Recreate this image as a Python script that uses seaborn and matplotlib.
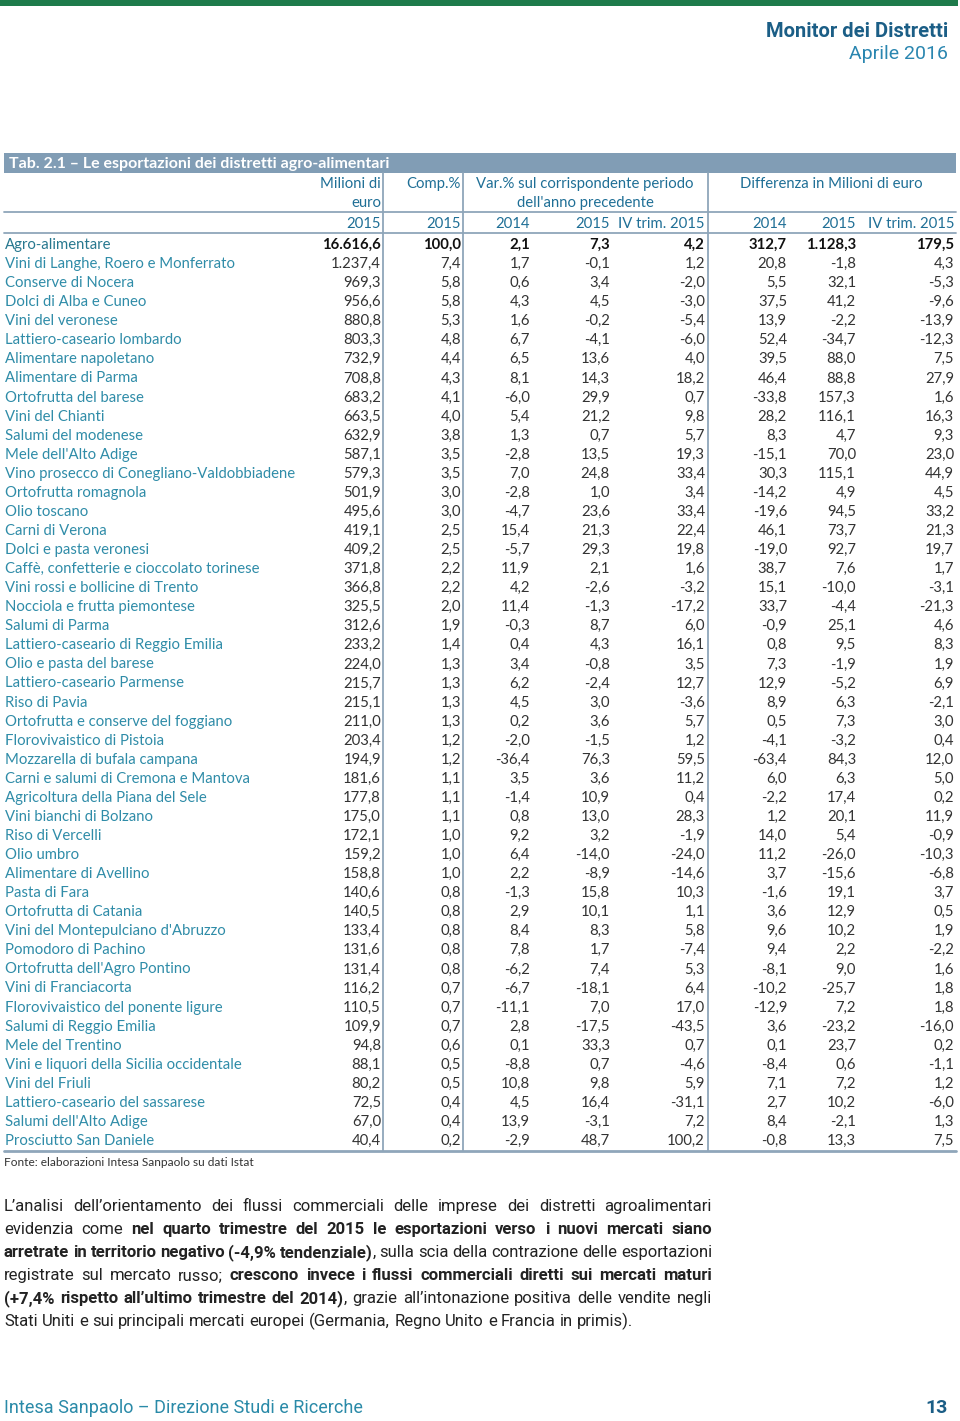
import numpy as np
import pandas as pd
import matplotlib
matplotlib.use("Agg")
import matplotlib.pyplot as plt
import seaborn as sns
from matplotlib.patches import Rectangle

# ---- data (Tab. 2.1) ----
districts = [
    "Agro-alimentare", "Vini di Langhe, Roero e Monferrato", "Conserve di Nocera",
    "Dolci di Alba e Cuneo", "Vini del veronese", "Lattiero-caseario lombardo",
    "Alimentare napoletano", "Alimentare di Parma", "Ortofrutta del barese",
    "Vini del Chianti", "Salumi del modenese", "Mele dell'Alto Adige",
    "Vino prosecco di Conegliano-Valdobbiadene", "Ortofrutta romagnola", "Olio toscano",
    "Carni di Verona", "Dolci e pasta veronesi", "Caffè, confetterie e cioccolato torinese",
    "Vini rossi e bollicine di Trento", "Nocciola e frutta piemontese", "Salumi di Parma",
    "Lattiero-caseario di Reggio Emilia", "Olio e pasta del barese", "Lattiero-caseario Parmense",
    "Riso di Pavia", "Ortofrutta e conserve del foggiano", "Florovivaistico di Pistoia",
    "Mozzarella di bufala campana", "Carni e salumi di Cremona e Mantova",
    "Agricoltura della Piana del Sele", "Vini bianchi di Bolzano", "Riso di Vercelli",
    "Olio umbro", "Alimentare di Avellino", "Pasta di Fara", "Ortofrutta di Catania",
    "Vini del Montepulciano d'Abruzzo", "Pomodoro di Pachino", "Ortofrutta dell'Agro Pontino",
    "Vini di Franciacorta", "Florovivaistico del ponente ligure", "Salumi di Reggio Emilia",
    "Mele del Trentino", "Vini e liquori della Sicilia occidentale", "Vini del Friuli",
    "Lattiero-caseario del sassarese", "Salumi dell'Alto Adige", "Prosciutto San Daniele",
]
milioni_2015 = [16616.6, 1237.4, 969.3, 956.6, 880.8, 803.3, 732.9, 708.8, 683.2, 663.5,
                632.9, 587.1, 579.3, 501.9, 495.6, 419.1, 409.2, 371.8, 366.8, 325.5,
                312.6, 233.2, 224.0, 215.7, 215.1, 211.0, 203.4, 194.9, 181.6, 177.8,
                175.0, 172.1, 159.2, 158.8, 140.6, 140.5, 133.4, 131.6, 131.4, 116.2,
                110.5, 109.9, 94.8, 88.1, 80.2, 72.5, 67.0, 40.4]
comp_2015 = [100.0, 7.4, 5.8, 5.8, 5.3, 4.8, 4.4, 4.3, 4.1, 4.0, 3.8, 3.5, 3.5, 3.0, 3.0,
             2.5, 2.5, 2.2, 2.2, 2.0, 1.9, 1.4, 1.3, 1.3, 1.3, 1.3, 1.2, 1.2, 1.1, 1.1,
             1.1, 1.0, 1.0, 1.0, 0.8, 0.8, 0.8, 0.8, 0.8, 0.7, 0.7, 0.7, 0.6, 0.5, 0.5,
             0.4, 0.4, 0.2]
var_2014 = [2.1, 1.7, 0.6, 4.3, 1.6, 6.7, 6.5, 8.1, -6.0, 5.4, 1.3, -2.8,
            7.0, -2.8, -4.7, 15.4, -5.7, 11.9, 4.2, 11.4, -0.3, 0.4, 3.4, 6.2,
            4.5, 0.2, -2.0, -36.4, 3.5, -1.4, 0.8, 9.2, 6.4, 2.2, -1.3, 2.9,
            8.4, 7.8, -6.2, -6.7, -11.1, 2.8, 0.1, -8.8, 10.8, 4.5, 13.9, -2.9]
var_2015 = [7.3, -0.1, 3.4, 4.5, -0.2, -4.1, 13.6, 14.3, 29.9, 21.2, 0.7, 13.5,
            24.8, 1.0, 23.6, 21.3, 29.3, 2.1, -2.6, -1.3, 8.7, 4.3, -0.8, -2.4,
            3.0, 3.6, -1.5, 76.3, 3.6, 10.9, 13.0, 3.2, -14.0, -8.9, 15.8, 10.1,
            8.3, 1.7, 7.4, -18.1, 7.0, -17.5, 33.3, 0.7, 9.8, 16.4, -3.1, 48.7]
var_iv_2015 = [4.2, 1.2, -2.0, -3.0, -5.4, -6.0, 4.0, 18.2, 0.7, 9.8, 5.7, 19.3,
               33.4, 3.4, 33.4, 22.4, 19.8, 1.6, -3.2, -17.2, 6.0, 16.1, 3.5, 12.7,
               -3.6, 5.7, 1.2, 59.5, 11.2, 0.4, 28.3, -1.9, -24.0, -14.6, 10.3, 1.1,
               5.8, -7.4, 5.3, 6.4, 17.0, -43.5, 0.7, -4.6, 5.9, -31.1, 7.2, 100.2]
diff_2014 = [312.7, 20.8, 5.5, 37.5, 13.9, 52.4, 39.5, 46.4, -33.8, 28.2, 8.3, -15.1,
             30.3, -14.2, -19.6, 46.1, -19.0, 38.7, 15.1, 33.7, -0.9, 0.8, 7.3, 12.9,
             8.9, 0.5, -4.1, -63.4, 6.0, -2.2, 1.2, 14.0, 11.2, 3.7, -1.6, 3.6,
             9.6, 9.4, -8.1, -10.2, -12.9, 3.6, 0.1, -8.4, 7.1, 2.7, 8.4, -0.8]
diff_2015 = [1128.3, -1.8, 32.1, 41.2, -2.2, -34.7, 88.0, 88.8, 157.3, 116.1, 4.7, 70.0,
             115.1, 4.9, 94.5, 73.7, 92.7, 7.6, -10.0, -4.4, 25.1, 9.5, -1.9, -5.2,
             6.3, 7.3, -3.2, 84.3, 6.3, 17.4, 20.1, 5.4, -26.0, -15.6, 19.1, 12.9,
             10.2, 2.2, 9.0, -25.7, 7.2, -23.2, 23.7, 0.6, 7.2, 10.2, -2.1, 13.3]
diff_iv_2015 = [179.5, 4.3, -5.3, -9.6, -13.9, -12.3, 7.5, 27.9, 1.6, 16.3, 9.3, 23.0,
                44.9, 4.5, 33.2, 21.3, 19.7, 1.7, -3.1, -21.3, 4.6, 8.3, 1.9, 6.9,
                -2.1, 3.0, 0.4, 12.0, 5.0, 0.2, 11.9, -0.9, -10.3, -6.8, 3.7, 0.5,
                1.9, -2.2, 1.6, 1.8, 1.8, -16.0, 0.2, -1.1, 1.2, -6.0, 1.3, 7.5]

paragraph = [
    "L’analisi dell’orientamento dei flussi commerciali delle imprese dei distretti agroalimentari",
    "evidenzia come **nel quarto trimestre del 2015 le esportazioni verso i nuovi mercati siano**",
    "**arretrate in territorio negativo (-4,9% tendenziale)**, sulla scia della contrazione delle esportazioni",
    "registrate sul mercato russo; **crescono invece i flussi commerciali diretti sui mercati maturi**",
    "**(+7,4% rispetto all’ultimo trimestre del 2014)**, grazie all’intonazione positiva delle vendite negli",
    "Stati Uniti e sui principali mercati europei (Germania, Regno Unito e Francia in primis).",
]

df = pd.DataFrame({
    "distretto": districts, "mil_2015": milioni_2015, "comp_2015": comp_2015,
    "var_2014": var_2014, "var_2015": var_2015, "var_iv": var_iv_2015,
    "diff_2014": diff_2014, "diff_2015": diff_2015, "diff_iv": diff_iv_2015,
})

sns.set_theme(style="white")
plt.rcParams["font.family"] = ["Lato", "DejaVu Sans"]
NARROW = ["Roboto", "DejaVu Sans"]

HEAD = "#1f6f96"
NAME = "#2f8ca8"
NUM = "#333333"
LINE = "#8fa6ba"


def fmt_it(v):
    s = f"{abs(v):,.1f}".replace(",", "X").replace(".", ",").replace("X", ".")
    return ("-" if v < 0 else "") + s


fig = plt.figure(figsize=(9.6, 14.21), dpi=100)
ax = fig.add_axes([0, 0, 1, 1])
ax.set_xlim(0, 960)
ax.set_ylim(1421, 0)
ax.axis("off")

# page header
ax.add_patch(Rectangle((0, 0), 958, 6, color="#1e7b4b", lw=0))
ax.text(948, 37, "Monitor dei Distretti", ha="right", va="baseline", fontsize=14.5,
        fontweight="bold", color="#1b5e86", family=NARROW)
ax.text(948, 59, "Aprile 2016", ha="right", va="baseline", fontsize=14,
        color="#2a86b0", family=NARROW)

# table title bar
ax.add_patch(Rectangle((4, 153), 952, 19.5, color="#819db5", lw=0))
ax.text(9, 168, "Tab. 2.1 – Le esportazioni dei distretti agro-alimentari", ha="left",
        va="baseline", fontsize=11.5, fontweight="bold", color="white")

# column headers
fs = 10.7
bl = 5  # baseline offset from row centre
ax.text(381, 183 + bl, "Milioni di", ha="right", va="baseline", fontsize=fs, color=HEAD)
ax.text(381, 202 + bl, "euro", ha="right", va="baseline", fontsize=fs, color=HEAD)
ax.text(461, 183 + bl, "Comp.%", ha="right", va="baseline", fontsize=fs, color=HEAD)
ax.text(585, 183 + bl, "Var.% sul corrispondente periodo", ha="center", va="baseline",
        fontsize=fs, color=HEAD)
ax.text(585, 202 + bl, "dell'anno precedente", ha="center", va="baseline", fontsize=fs,
        color=HEAD)
ax.text(831, 183 + bl, "Differenza in Milioni di euro", ha="center", va="baseline",
        fontsize=fs, color=HEAD)

cols = [("mil_2015", 381, "2015"), ("comp_2015", 461, "2015"), ("var_2014", 530, "2014"),
        ("var_2015", 610, "2015"), ("var_iv", 705, "IV trim. 2015"),
        ("diff_2014", 787, "2014"), ("diff_2015", 856, "2015"), ("diff_iv", 954, "IV trim. 2015")]
for c, xr, lab in cols:
    ax.text(xr, 223 + bl, lab, ha="right", va="baseline", fontsize=fs, color=HEAD)

# rules
for yl in (211.5, 233):
    ax.plot([4, 956], [yl, yl], color=LINE, lw=1.3)
ax.plot([4, 956], [1151, 1151], color=LINE, lw=2)
for xv in (383, 463, 708):
    ax.plot([xv, xv], [172.5, 1151], color=LINE, lw=1.3)

# table body
y0, y1 = 244, 1140
row_h = (y1 - y0) / (len(df) - 1)
for i, row in df.iterrows():
    y = y0 + i * row_h + bl
    first = i == 0
    ax.text(5, y, row["distretto"], ha="left", va="baseline", fontsize=fs,
            color="#27788f" if first else NAME)
    for c, xr, _ in cols:
        ax.text(xr, y, fmt_it(row[c]), ha="right", va="baseline", fontsize=fs,
                color="#111111" if first else NUM,
                fontweight="bold" if first else "normal")

ax.text(4, 1166, "Fonte: elaborazioni Intesa Sanpaolo su dati Istat", ha="left",
        va="baseline", fontsize=8.6, color="#333333")

# justified paragraph
renderer = fig.canvas.get_renderer()
px0, px1 = 4, 712
pfs = 12.0


def parse_words(line):
    words = [[]]
    for k, seg in enumerate(line.split("**")):
        bold = k % 2 == 1
        for j, piece in enumerate(seg.split(" ")):
            if j > 0:
                words.append([])
            if piece:
                words[-1].append((piece, bold))
    return [w for w in words if w]


def width_of(t):
    return t.get_window_extent(renderer).width


probe = ax.text(0, -50, "n n", fontsize=pfs, family=NARROW)
probe2 = ax.text(0, -50, "nn", fontsize=pfs, family=NARROW)
space_w = width_of(probe) - width_of(probe2)
probe.remove()
probe2.remove()

for li, line in enumerate(paragraph):
    y = 1211 + li * 23
    words = parse_words(line)
    placed = []
    for w in words:
        frags = []
        for txt, bold in w:
            t = ax.text(0, y, txt, ha="left", va="baseline", fontsize=pfs, color="#222222",
                        family=NARROW, fontweight="bold" if bold else "normal")
            frags.append((t, width_of(t)))
        placed.append(frags)
    total = sum(wd for frags in placed for _, wd in frags)
    if li < len(paragraph) - 1:
        gap = (px1 - px0 - total) / (len(placed) - 1)
    else:
        gap = space_w
    x = px0
    for frags in placed:
        for t, wd in frags:
            t.set_x(x)
            x += wd
        x += gap

# page footer
ax.text(4, 1413, "Intesa Sanpaolo – Direzione Studi e Ricerche", ha="left", va="baseline",
        fontsize=13, color="#2a8aa8", family=NARROW)
ax.text(948, 1413, "13", ha="right", va="baseline", fontsize=14, fontweight="bold",
        color="#1b5e86", family=NARROW)

fig.savefig("out.png", dpi=100, facecolor="white")
